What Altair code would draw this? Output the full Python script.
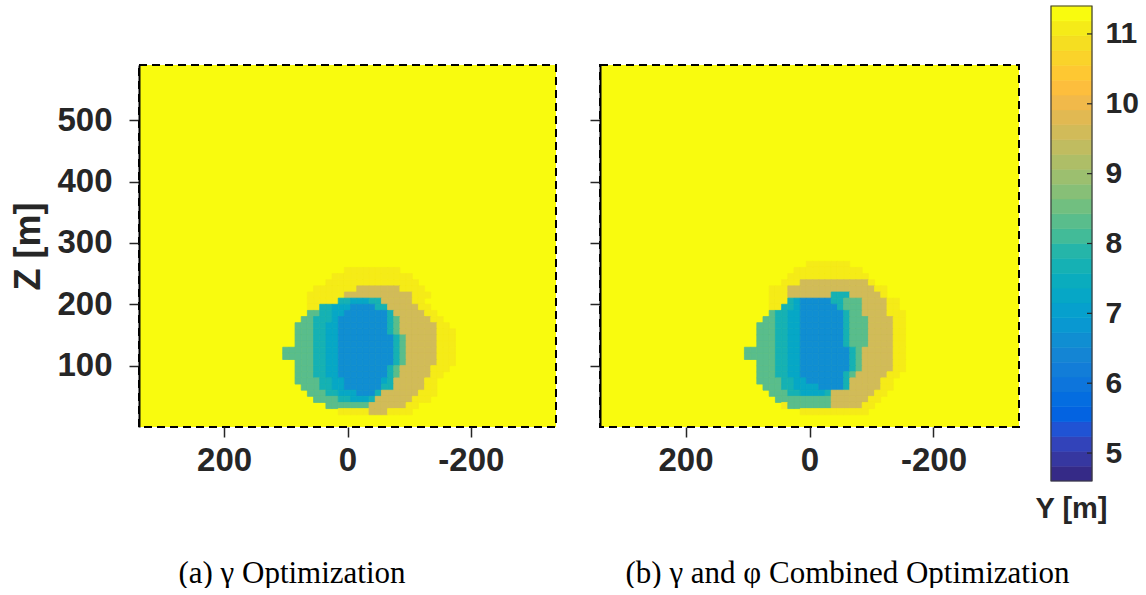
import altair as alt
import pandas as pd

# ---------------- data ----------------
# grid column centres (Y, m) and row centres (Z, m) of the blob region
Y_COLS = [110, 100, 90, 80, 70, 60, 50, 40, 30, 20, 10, 0, -10, -20, -30, -40,
          -50, -60, -70, -80, -90, -100, -110, -120, -130, -140, -150, -160, -170, -180]
Z_ROWS = [265, 255, 245, 235, 225, 215, 205, 195, 185, 175, 165, 155, 145, 135,
          125, 115, 105, 95, 85, 75, 65, 55, 45, 35, 25]
CELL = 10

# level codes (value in m)
LEVELS = {"y": 11.08, "k": 9.6, "g": 8.3, "t": 7.68, "c": 7.25, "b": 6.6}
BACKGROUND_LEVEL = 11.3

# run-length rows: "<count><code>" ; "." = background
PANEL_A_ROWS = [
    "30.",
    "11. 9y 10.",
    "9. 13y 8.",
    "8. 15y 7.",
    "6. 7y 7k 4y 6.",
    "5. 6y 11k 3y 5.",
    "5. 5y 2t 3c 2t 5k 2y 6.",
    "5. 2y 2t 3c 4b 2t 5k 2y 5.",
    "5. 2g 2t 2c 7b 1t 5k 2y 4.",
    "4. 2g 3t 1c 8b 1t 1g 5k 2y 3.",
    "3. 3g 2t 2c 8b 1t 1g 6k 2y 2.",
    "3. 3g 2t 2c 8b 1t 1g 6k 3y 1.",
    "3. 3g 2t 2c 9b 1t 1g 5k 3y 1.",
    "3. 3g 2t 2c 9b 1t 1g 5k 3y 1.",
    "1. 5g 2t 2c 9b 1t 1g 5k 3y 1.",
    "1. 5g 2t 2c 9b 1t 1g 5k 3y 1.",
    "3. 3g 2t 2c 9b 1t 1g 5k 3y 1.",
    "3. 3g 2t 2c 8b 1t 1g 5k 3y 2.",
    "3. 3g 2t 2c 8b 1t 1g 5k 2y 3.",
    "3. 4g 2t 2c 6b 1c 1t 5k 2y 4.",
    "4. 3g 2t 2c 6b 2t 5k 2y 4.",
    "5. 3g 2t 3c 3b 1t 6k 3y 4.",
    "6. 4g 2t 3c 1t 6k 3y 5.",
    "8. 7g 6k 2y 7.",
    "10. 5y 3k 4y 8.",
]

PANEL_B_ROWS = [
    "11. 7y 12.",
    "9. 11y 10.",
    "8. 13y 9.",
    "7. 3y 11k 1y 8.",
    "5. 3y 14k 2y 6.",
    "5. 3y 7k 3t 5k 1y 6.",
    "5. 3y 1t 1c 5b 2t 3g 4k 2y 4.",
    "5. 2y 2t 1c 6b 1t 3g 4k 2y 4.",
    "5. 1g 2t 2c 7b 1t 2g 4k 3y 3.",
    "4. 2g 2t 2c 7b 1t 3g 4k 2y 3.",
    "3. 3g 2t 2c 7b 1t 3g 4k 2y 3.",
    "3. 3g 2t 2c 7b 1t 3g 4k 2y 3.",
    "3. 3g 2t 2c 7b 1t 3g 4k 2y 3.",
    "3. 3g 2t 2c 7b 1t 3g 4k 2y 3.",
    "1. 5g 2t 2c 8b 1t 1g 5k 2y 3.",
    "1. 5g 2t 2c 8b 1t 1g 5k 2y 3.",
    "3. 3g 2t 2c 8b 1t 1g 5k 2y 3.",
    "3. 3g 2t 2c 8b 1t 1g 5k 2y 3.",
    "3. 3g 2t 2c 7b 1t 1g 5k 2y 4.",
    "3. 4g 2t 2c 6b 1t 5k 2y 5.",
    "4. 3g 2t 4c 4b 1t 5k 2y 5.",
    "5. 3g 2t 4c 1t 7k 2y 6.",
    "6. 9g 6k 2y 7.",
    "7. 1y 7g 5k 2y 8.",
    "10. 11y 9.",
]

X_DOMAIN = [338, -338]
Z_DOMAIN = [0, 590]
C_DOMAIN = [4.6, 11.4]
X_TICKS = [200, 0, -200]
Z_TICKS = [100, 200, 300, 400, 500]
C_TICKS = [5, 6, 7, 8, 9, 10, 11]
CAPTION_A = "(a) \u03b3 Optimization"
CAPTION_B = "(b) \u03b3 and \u03c6 Combined Optimization"

# parula colormap (64 entries)
PARULA64 = [
    (0.2081, 0.1663, 0.5292), (0.2116, 0.1898, 0.5777), (0.2123, 0.2138, 0.6270),
    (0.2081, 0.2386, 0.6771), (0.1959, 0.2645, 0.7279), (0.1707, 0.2919, 0.7792),
    (0.1253, 0.3242, 0.8303), (0.0591, 0.3598, 0.8683), (0.0117, 0.3875, 0.8820),
    (0.0060, 0.4086, 0.8828), (0.0165, 0.4266, 0.8786), (0.0329, 0.4430, 0.8720),
    (0.0498, 0.4586, 0.8641), (0.0629, 0.4737, 0.8554), (0.0723, 0.4887, 0.8467),
    (0.0779, 0.5040, 0.8384), (0.0793, 0.5200, 0.8312), (0.0749, 0.5375, 0.8263),
    (0.0641, 0.5570, 0.8240), (0.0488, 0.5772, 0.8228), (0.0343, 0.5966, 0.8199),
    (0.0265, 0.6137, 0.8135), (0.0239, 0.6287, 0.8038), (0.0231, 0.6418, 0.7913),
    (0.0228, 0.6535, 0.7768), (0.0267, 0.6642, 0.7607), (0.0384, 0.6743, 0.7436),
    (0.0590, 0.6838, 0.7254), (0.0843, 0.6928, 0.7062), (0.1133, 0.7015, 0.6859),
    (0.1453, 0.7098, 0.6646), (0.1801, 0.7177, 0.6424), (0.2178, 0.7250, 0.6193),
    (0.2586, 0.7317, 0.5954), (0.3022, 0.7376, 0.5712), (0.3482, 0.7424, 0.5473),
    (0.3953, 0.7459, 0.5244), (0.4420, 0.7481, 0.5033), (0.4871, 0.7491, 0.4840),
    (0.5300, 0.7491, 0.4661), (0.5709, 0.7485, 0.4494), (0.6099, 0.7473, 0.4337),
    (0.6473, 0.7456, 0.4188), (0.6834, 0.7435, 0.4044), (0.7184, 0.7411, 0.3905),
    (0.7525, 0.7384, 0.3768), (0.7858, 0.7356, 0.3633), (0.8185, 0.7327, 0.3498),
    (0.8507, 0.7299, 0.3360), (0.8824, 0.7274, 0.3217), (0.9139, 0.7258, 0.3063),
    (0.9450, 0.7261, 0.2886), (0.9739, 0.7314, 0.2666), (0.9938, 0.7455, 0.2403),
    (0.9990, 0.7653, 0.2164), (0.9955, 0.7861, 0.1967), (0.9880, 0.8066, 0.1794),
    (0.9789, 0.8271, 0.1633), (0.9697, 0.8481, 0.1475), (0.9626, 0.8705, 0.1309),
    (0.9589, 0.8949, 0.1132), (0.9598, 0.9218, 0.0948), (0.9661, 0.9514, 0.0755),
    (0.9763, 0.9831, 0.0538),
]
N_BANDS = 32

# ---------------- helpers ----------------
def hexcol(c):
    return "#%02x%02x%02x" % tuple(int(round(v * 255)) for v in c)

COLORS = [hexcol(PARULA64[int(round(i * 63 / (N_BANDS - 1)))]) for i in range(N_BANDS)]


def expand(rle):
    out = ""
    for tok in rle.split():
        out += tok[-1] * int(tok[:-1])
    assert len(out) == len(Y_COLS), (rle, len(out))
    return out


def cells(rows):
    recs = []
    for z, row in zip(Z_ROWS, rows):
        for y, ch in zip(Y_COLS, expand(row)):
            if ch != ".":
                recs.append({"x0": y + CELL / 2, "x1": y - CELL / 2,
                             "z0": z - CELL / 2, "z1": z + CELL / 2, "v": LEVELS[ch]})
    return pd.DataFrame(recs)


TXT = "#262626"
SANS = "Liberation Sans"
TICK_FS = 33
CB_FS = 30

cscale = alt.Scale(type="quantize", domain=C_DOMAIN, range=COLORS, nice=False, zero=False)

PANEL_H = 421       # view height (plot area occupies the lower part)
PLOT_TOP = 59


def panel(rows, plot_w, view_w, first, caption, caption_x):
    xs = alt.Scale(domain=X_DOMAIN, range=[0, plot_w], nice=False, zero=False)
    ys = alt.Scale(domain=Z_DOMAIN, range=[PANEL_H, PLOT_TOP], nice=False, zero=False)
    x_axis = alt.Axis(values=X_TICKS, domain=False, grid=False, tickSize=10, tickWidth=1.5,
                      tickColor=TXT, labelPadding=7, labelFontSize=TICK_FS,
                      labelFontWeight="bold", labelFont=SANS, labelColor=TXT,
                      labelExpr="'' + datum.value",
                      title=caption, titleFont="Liberation Serif", titleFontSize=31,
                      titleFontWeight="normal", titleColor="black", titleX=caption_x,
                      titleY=146, titleBaseline="middle", titleAlign="center", zindex=1)
    ykw = dict(values=Z_TICKS, domain=True, domainColor="black", domainWidth=2, grid=False,
               tickSize=10, tickWidth=1.5, tickColor=TXT, zindex=1)
    if first:
        ykw.update(labels=True, labelPadding=17, labelFontSize=TICK_FS, labelFontWeight="bold",
                   labelFont=SANS, labelColor=TXT, title="Z [m]", titleFontSize=36,
                   titleFont=SANS, titleFontWeight="bold", titleColor=TXT, titlePadding=9)
    else:
        ykw.update(labels=False, title=None)
    y_axis = alt.Axis(**ykw)

    bg_df = pd.DataFrame({"x0": [X_DOMAIN[0]], "x1": [X_DOMAIN[1]],
                          "z0": [Z_DOMAIN[0]], "z1": [Z_DOMAIN[1]], "v": [BACKGROUND_LEVEL]})
    bg = alt.Chart(bg_df).mark_rect(stroke="black", strokeWidth=2, strokeDash=[8, 5]).encode(
        x=alt.X("x0:Q", scale=xs, axis=x_axis),
        x2="x1:Q",
        y=alt.Y("z0:Q", scale=ys, axis=y_axis),
        y2="z1:Q",
        color=alt.Color("v:Q", scale=cscale, legend=None),
    )
    cl = alt.Chart(cells(rows)).mark_rect(strokeWidth=0.8).encode(
        x="x0:Q", x2="x1:Q", y="z0:Q", y2="z1:Q",
        color=alt.Color("v:Q", scale=cscale, legend=None),
        stroke=alt.Stroke("v:Q", scale=cscale, legend=None),
    )
    return alt.layer(bg, cl).properties(width=view_w, height=PANEL_H)


pa = panel(PANEL_A_ROWS, 417, 429, True, CAPTION_A, 152.5)
pb = panel(PANEL_B_ROWS, 419, 419, False, CAPTION_B, 247)

# ---------------- colour bar ----------------
CB_W, CB_H = 41, 475
step = (C_DOMAIN[1] - C_DOMAIN[0]) / N_BANDS
bands = pd.DataFrame({
    "lo": [C_DOMAIN[0] + i * step for i in range(N_BANDS)],
    "hi": [C_DOMAIN[0] + (i + 1) * step for i in range(N_BANDS)],
})
bands["mid"] = (bands["lo"] + bands["hi"]) / 2
cb_y = alt.Scale(domain=C_DOMAIN, nice=False, zero=False)
cb_bands = alt.Chart(bands).mark_rect(strokeWidth=0.6).encode(
    x=alt.value(0), x2=alt.value(CB_W),
    y=alt.Y("lo:Q", scale=cb_y,
            axis=alt.Axis(orient="right", values=C_TICKS, format="d", ticks=False, domain=False,
                          grid=False, labelPadding=13, labelFontSize=CB_FS,
                          labelFontWeight="bold", labelFont=SANS, labelColor=TXT, title=None)),
    y2="hi:Q",
    color=alt.Color("mid:Q", scale=cscale, legend=None),
    stroke=alt.Stroke("mid:Q", scale=cscale, legend=None),
)
cb_border = alt.Chart(pd.DataFrame({"lo": [C_DOMAIN[0]], "hi": [C_DOMAIN[1]]})).mark_rect(
    fillOpacity=0, stroke="#3a3a3a", strokeWidth=1.2).encode(
    x=alt.value(0), x2=alt.value(CB_W), y="lo:Q", y2="hi:Q")
cb_ticks = alt.Chart(pd.DataFrame({"lo": C_TICKS})).mark_rule(color=TXT, strokeWidth=1.2).encode(
    y="lo:Q", x=alt.value(CB_W - 5), x2=alt.value(CB_W))
cbar = alt.layer(cb_bands, cb_border, cb_ticks).properties(
    width=CB_W, height=CB_H,
    title=alt.TitleParams("Y [m]", orient="bottom", anchor="middle", fontSize=29,
                          fontWeight="bold", font=SANS, color=TXT, offset=13),
)

chart = alt.hconcat(pa, pb, cbar, spacing=32, bounds="flush").properties(
    padding={"left": 10, "top": 5, "right": 0, "bottom": 0},
    background="white",
).configure_view(strokeWidth=0)

chart.save("out.html", embed_options={"renderer": "svg", "actions": False})
